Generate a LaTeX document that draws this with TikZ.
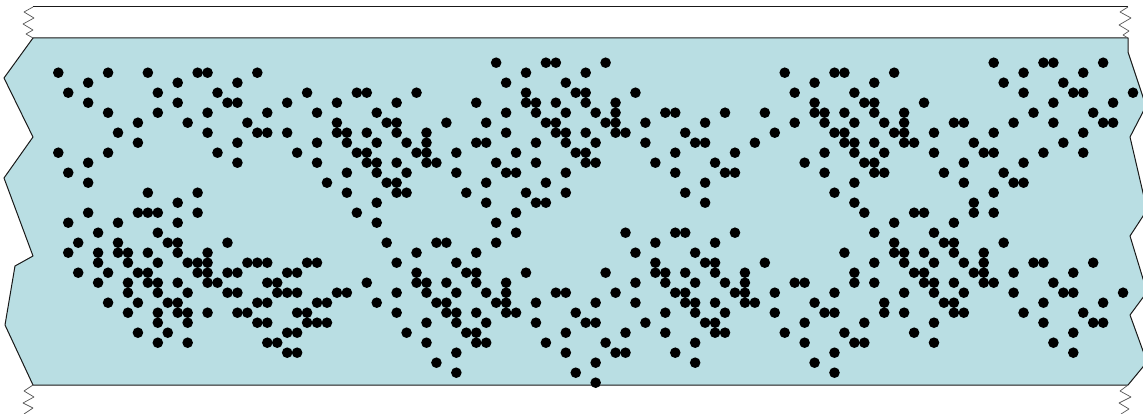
\documentclass[tikz,border=0pt]{standalone}
\usepackage{tikz}
\definecolor{bandfill}{RGB}{185,222,227}
\tikzstyle{band} = [fill=bandfill, draw=black!90, line width=1pt, line join=round]
\tikzstyle{tear} = [draw=black!65, line width=0.7pt, line join=round]
\tikzstyle{edgeline} = [draw=black!90, line width=1pt]
\tikzstyle{grain} = [fill=black]

\begin{document}
\begin{tikzpicture}[x=1pt, y=-1pt]
\useasboundingbox (0,0) rectangle (1143,414);
\fill[white] (0,0) rectangle (1143,414);
\draw[band] (33,38) -- (1128,38) -- (1128,52) -- (1146,106) -- (1130,137)
  -- (1147,210) -- (1130,236) -- (1147,292) -- (1130,315) -- (1147,362)
  -- (1128,385) -- (33,385) -- (5,325) -- (15,266) -- (33,256) -- (4,178)
  -- (33,137) -- (4,78) -- cycle;
\draw[edgeline] (33,7) -- (1128,7);
\draw[tear] (33,7) -- (24,12) -- (34,18) -- (23,24) -- (33,30) -- (26,34) -- (33,38);
\draw[tear] (1128,7) -- (1120,12) -- (1131,18) -- (1119,25) -- (1129,31) -- (1123,35) -- (1128,38);
\draw[tear] (33,385) -- (24,391) -- (34,397) -- (23,403) -- (33,408) -- (24,414);
\draw[tear] (1128,385) -- (1120,391) -- (1131,397) -- (1119,403) -- (1129,409) -- (1121,414);
% grains, row / columns on a 9.95 x 10 grid
\foreach \r/\cols in {
  0/{44,49,50,55,94,99,100,105},
  1/{0,5,9,14,15,20,47,53,73,78,79,84,97,103},
  2/{3,12,18,45,51,76,82,95,101},
  3/{1,10,16,25,30,31,36,47,52,53,58,74,80,97,102,103,108},
  4/{3,12,17,18,23,28,34,42,47,48,50,53,56,76,81,82,87,100,106},
  5/{5,10,15,21,26,32,45,48,51,54,56,61,62,67,71,76,77,79,82,85,98,104},
  6/{8,13,19,28,33,34,39,43,49,50,55,56,59,65,74,77,80,83,85,90,91,96,100,105,106},
  7/{6,15,20,21,23,28,29,31,34,37,45,50,51,53,56,57,63,72,78,79,84,85,88,94,103},
  8/{8,18,26,29,32,35,37,42,43,48,51,54,59,64,65,70,79,80,82,85,86,92,101},
  9/{0,5,16,24,30,31,36,37,40,46,52,53,62,68,77,80,83,88,93,94,99,103},
  10/{3,18,26,31,32,34,37,38,44,48,53,54,60,66,75,81,82,91,97},
  11/{1,29,32,35,40,45,46,51,62,67,68,77,82,83,89,95},
  12/{3,27,33,34,43,49,65,80,91,96,97},
  13/{9,14,29,34,35,41,47,51,63,78,94},
  14/{12,32,43,48,49,65,80,92},
  15/{3,8,9,10,14,30,46,81,86,87,92,94},
  16/{1,6,12,32,44,84,90},
  17/{4,10,46,57,62,63,68,82,88},
  18/{2,6,11,12,17,33,38,39,44,60,66,84,89,90,95},
  19/{1,4,6,7,9,12,15,36,42,58,64,79,84,85,87,90,93},
  20/{4,7,10,13,14,15,19,20,21,25,26,34,40,60,65,66,71,82,85,88,91,93,98,99,104},
  21/{2,5,8,9,14,15,17,18,23,24,36,41,42,47,55,60,61,63,66,69,80,86,87,92,93,96,102},
  22/{4,7,9,10,12,15,16,21,22,31,36,37,39,42,45,58,61,64,67,69,74,75,80,82,87,88,90,93,94,100},
  23/{7,10,13,17,18,22,23,24,28,29,34,37,40,43,45,50,51,56,62,63,68,69,72,78,85,88,91,96,101,102,107},
  24/{5,8,11,12,20,21,26,27,32,38,39,44,45,48,54,58,63,64,66,69,70,76,83,89,90,99,105},
  25/{7,10,12,13,15,18,19,24,25,34,39,40,42,45,46,52,61,64,67,72,77,78,83,85,90,91,97,103},
  26/{10,13,20,21,25,26,27,37,40,43,48,53,54,59,65,66,75,81,88,99,104,105},
  27/{8,11,23,24,35,41,42,51,57,61,66,67,73,79,86,102},
  28/{10,13,21,22,37,42,43,49,55,64,75,80,81,88,100},
  29/{23,24,40,51,56,57,62,78,102},
  30/{38,54,64,76},
  31/{40,52,78},
  32/{54}}
  \foreach \c in \cols
    \fill[grain] (58.3+9.951*\c, 62.7+10*\r) circle[radius=5.3pt];
\end{tikzpicture}
\end{document}
